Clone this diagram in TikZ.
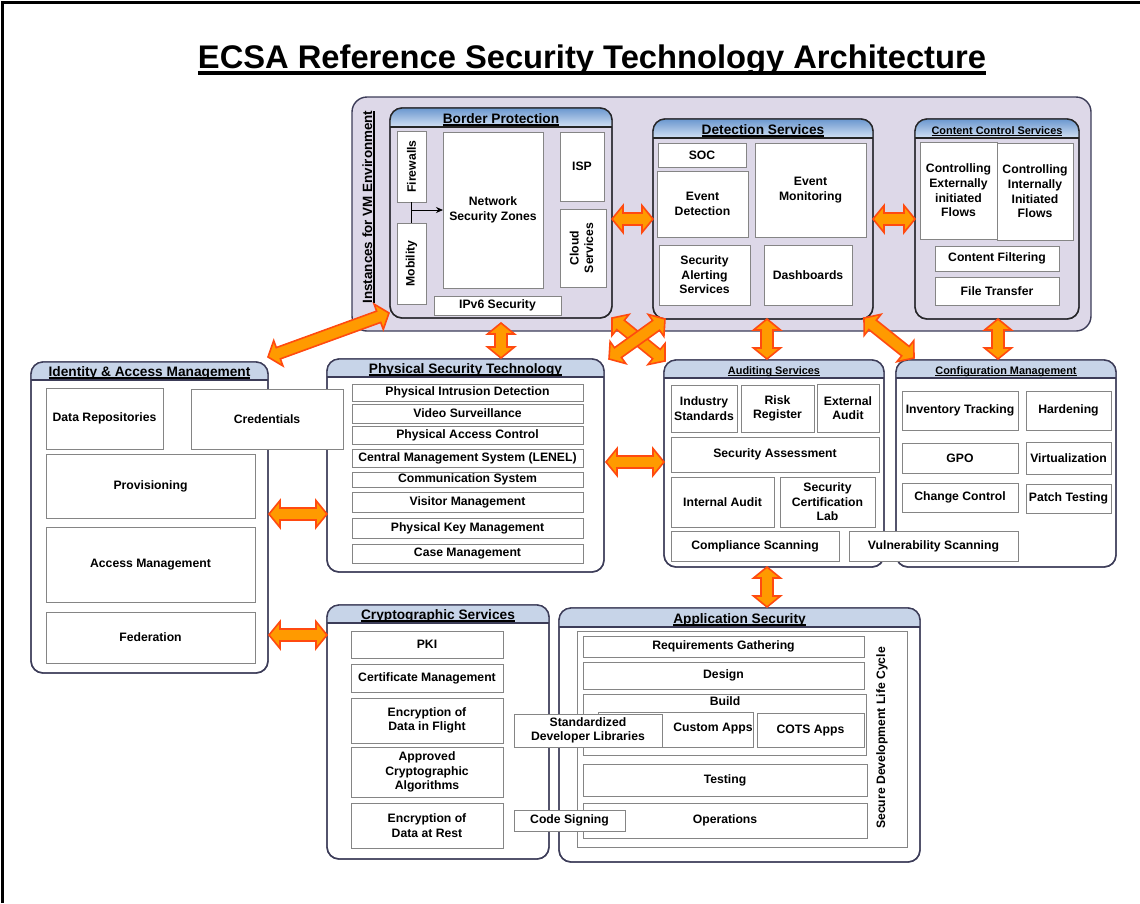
\documentclass[tikz,border=0pt]{standalone}
\usepackage{fontspec}
\setmainfont{Liberation Sans}
\usetikzlibrary{calc,arrows.meta}

\definecolor{vmfill}{HTML}{DDD8E8}
\definecolor{hdrlight}{HTML}{C7D4E8}
\definecolor{hdrtop}{HTML}{6A97CF}
\definecolor{hdrbot}{HTML}{D3E1F3}
\definecolor{grpline}{HTML}{3C3C58}
\definecolor{boxline}{HTML}{858585}
\definecolor{arrfill}{HTML}{FF9A00}
\definecolor{arrline}{HTML}{FF4A10}

\newcommand\ulx[1]{\setbox0=\hbox{#1}\rlap{\rule[-0.2em]{\wd0}{0.1em}}\box0}

\tikzset{
  bx/.style={draw=boxline, line width=0.9pt, fill=white, inner sep=1pt, outer sep=0pt,
    align=center, font=\fontsize{12.2}{14.6}\selectfont\bfseries},
  txt/.style={inner sep=0pt, align=center, font=\fontsize{12.2}{14.6}\selectfont\bfseries},
  grpbox/.style={draw=grpline, line width=1.4pt, rounded corners=12pt, inner sep=0pt, outer sep=0pt},
  grpedge/.style={draw=grpline, line width=1.4pt},
  grpbody/.style={fill=white},
  hdrA/.style={top color=hdrtop, bottom color=hdrbot},
  hdrB/.style={fill=hdrlight},
  fatarr/.style={fill=arrfill, draw=arrline, line width=1.6pt, line join=miter},
}

\newcommand\bx[7][]{\node[bx,minimum width={#5-#3},minimum height={#6-#4},#1] (#2) at ({(#3+#5)/2},{(#4+#6)/2}) {#7};}

\newcommand\grp[9]{%
  \node[grpbox, grpbody, minimum width={#4-#2}, minimum height={#5-#3}] (#1) at ({(#2+#4)/2},{(#3+#5)/2}) {};
  \begin{scope}
    \clip[rounded corners=12pt] (#2,#3) rectangle (#4,#5);
    \path[#8] (#2,#3) rectangle (#4,#6);
  \end{scope}
  \draw[grpedge] (#2,#6) -- (#4,#6);
  \draw[grpedge, rounded corners=12pt] (#2,#3) rectangle (#4,#5);
  \node[inner sep=0pt, font=\fontsize{#9}{#9}\selectfont\bfseries, anchor=base] (#1-title) at ({(#2+#4)/2},{#6-4}) {\ulx{#7}};
}

\newcommand\fatarrow[3][]{%
  \path let \p1=(#2), \p2=(#3) in \pgfextra{%
    \pgfmathsetmacro\faA{atan2(\y2-\y1,\x2-\x1)}%
    \pgfmathsetmacro\faL{veclen(\x2-\x1,\y2-\y1)}%
    \global\let\faAng\faA \global\let\faLen\faL};
  \draw[fatarr, shift={(#2)}, rotate=\faAng, #1]
    (0,0) -- (11,13.5) -- (11,6) -- ({\faLen-11},6) -- ({\faLen-11},13.5) -- (\faLen,0)
    -- ({\faLen-11},-13.5) -- ({\faLen-11},-6) -- (11,-6) -- (11,-13.5) -- cycle;
}

\begin{document}
\begin{tikzpicture}[x=1pt,y=-1pt]
\useasboundingbox (0,0) rectangle (1140,903);
\fill[white] (0,0) rectangle (1140,903);
\draw[line width=3pt] (2,903) -- (2,2) -- (1140,2);

% title
\node[inner sep=0pt, anchor=base, font=\fontsize{32.7}{36}\selectfont\bfseries] (title) at (592,68)
  {\ulx{ECSA Reference Security Technology Architecture}};

% VM environment
\node[grpbox, fill=vmfill, rounded corners=15pt, minimum width=739, minimum height=234] (vm) at (721.5,214) {};
\node[inner sep=0pt, rotate=90, anchor=base, font=\fontsize{13.4}{14}\selectfont\bfseries] (vmlabel) at (372,207)
  {\ulx{Instances for VM Environment}};

\tikzset{grpbody/.style={fill=vmfill}, grpedge/.style={draw=black!85, line width=1.4pt}}
% Border protection
\grp{bp}{390}{108}{612}{318}{127}{Border Protection}{hdrA}{13.7}
\bx{fw}{397}{131}{426}{202}{\rotatebox{90}{Firewalls}}
\bx{mob}{397}{223}{426}{304}{\rotatebox{90}{Mobility}}
\bx{nsz}{443}{132}{543}{288}{Network\\Security Zones}
\bx{isp}{560}{132}{604}{201}{ISP}
\bx{cloud}{560}{209}{606}{287}{\rotatebox{90}{\begin{tabular}{@{}c@{}}Cloud\\Services\end{tabular}}}
\bx{ipv6}{434}{296}{561}{315}{IPv6 Security}
\draw[line width=0.8pt] (fw.south) -- (mob.north);
\coordinate (fwj) at (fw.south |- nsz.west);
\draw[line width=0.8pt, -{Stealth[length=7pt,width=6pt]}] (fwj) -- (nsz.west);

% Detection services
\grp{ds}{653}{119}{873}{319}{138}{Detection Services}{hdrA}{13.7}
\bx{soc}{658}{143}{746}{167}{SOC}
\bx{evd}{657}{171}{748}{237}{Event\\Detection}
\bx{evm}{755}{143}{866}{237}{Event\\Monitoring}
\bx{sas}{659}{245}{750}{305}{Security\\Alerting\\Services}
\bx{dash}{764}{245}{852}{305}{Dashboards}

% Content control services
\grp{ccs}{915}{119}{1079}{319}{138}{Content Control Services}{hdrA}{10.9}
\bx{cef}{920}{142}{997}{239}{Controlling\\Externally\\initiated\\Flows}
\bx{cif}{997}{143}{1073}{240}{Controlling\\Internally\\Initiated\\Flows}
\bx{cfilt}{935}{246}{1059}{271}{Content Filtering}
\bx{ftr}{935}{277}{1059}{305}{File Transfer}

\tikzset{grpbody/.style={fill=white}, grpedge/.style={draw=grpline, line width=1.4pt}}
% Physical security
\grp{pst}{327}{359}{604}{572}{377}{Physical Security Technology}{hdrB}{13.7}
\bx{pid}{352}{384}{583}{401}{Physical Intrusion Detection}
\bx{vs}{352}{404}{583}{423}{Video Surveillance}
\bx{pac}{352}{426}{583}{444}{Physical Access Control}
\bx{cms}{352}{449}{583}{467}{Central Management System (LENEL)}
\bx{coms}{352}{472}{583}{487}{Communication System}
\bx{vism}{352}{492}{583}{512}{Visitor Management}
\bx{pkm}{352}{518}{583}{538}{Physical Key Management}
\bx{casem}{352}{544}{583}{563}{Case Management}

% Identity & access management
\grp{iam}{31}{362}{268}{673}{380}{Identity \& Access Management}{hdrB}{13.7}
\bx{drep}{46}{388}{163}{449}{Data Repositories}
\bx{cred}{191}{389}{343}{449}{Credentials}
\bx{prov}{46}{454}{255}{518}{Provisioning}
\bx{accm}{46}{527}{255}{602}{Access Management}
\bx{fed}{46}{612}{255}{663}{Federation}

% Auditing services
\grp{aud}{664}{360}{884}{567}{378}{Auditing Services}{hdrB}{10.9}
\bx{ind}{671}{385}{737}{432}{Industry\\Standards}
\bx{risk}{741}{385}{814}{432}{Risk\\Register}
\bx{ext}{817}{384}{879}{432}{External\\Audit}
\bx{sass}{671}{437}{879}{472}{Security Assessment}
\bx{inta}{671}{477}{774}{527}{Internal Audit}
\bx{scl}{780}{477}{875}{527}{Security\\Certification\\Lab}
\bx{comp}{671}{531}{839}{561}{Compliance Scanning}

% Configuration management
\grp{cfg}{896}{360}{1116}{567}{378}{Configuration Management}{hdrB}{10.9}
\bx{inv}{902}{391}{1018}{430}{Inventory Tracking}
\bx{hard}{1026}{391}{1111}{430}{Hardening}
\bx{gpo}{902}{443}{1018}{473}{GPO}
\bx{virt}{1026}{442}{1111}{474}{Virtualization}
\bx{chg}{902}{483}{1018}{512}{Change Control}
\bx{patch}{1026}{484}{1111}{513}{Patch Testing}
\bx{vuln}{849}{531}{1018}{561}{Vulnerability Scanning}

% Cryptographic services
\grp{cry}{327}{605}{549}{859}{623}{Cryptographic Services}{hdrB}{13.7}
\bx{pki}{351}{631}{503}{658}{PKI}
\bx{certm}{351}{664}{503}{692}{Certificate Management}
\bx{eif}{351}{698}{503}{743}{Encryption of\\Data in Flight}
\bx{aca}{351}{747}{503}{797}{Approved\\Cryptographic\\Algorithms}
\bx{ear}{351}{803}{503}{848}{Encryption of\\Data at Rest}

% Application security
\grp{app}{559}{608}{920}{862}{627}{Application Security}{hdrB}{13.7}
\bx{sdlc}{577}{631}{907}{847}{}
\node[txt, rotate=90] (sdlclabel) at (882,738) {Secure Development Life Cycle};
\bx{req}{583}{636}{864}{657}{Requirements Gathering}
\bx{des}{583}{662}{864}{689}{Design}
\bx{build}{583}{694}{866}{755}{}
\node[txt] (buildlabel) at (725,701) {Build};
\bx{cust}{598}{712}{753}{747}{}
\node[txt] (custlabel) at (713,728) {Custom Apps};
\bx{cots}{757}{713}{864}{747}{COTS Apps}
\bx{test}{583}{764}{867}{796}{Testing}
\bx{ops}{583}{803}{867}{838}{Operations}

% overlapping boxes
\bx{sdl}{514}{714}{662}{747}{Standardized\\Developer Libraries}
\bx{cs}{514}{810}{625}{831}{Code Signing}

% fat arrows
\coordinate (a3s) at (389,313); \coordinate (a3e) at (268,357);
\coordinate (a4s) at (501,323); \coordinate (a4e) at (501,358);
\coordinate (a5s) at (612,318); \coordinate (a5e) at (665,361);
\coordinate (a6s) at (665,319); \coordinate (a6e) at (609,359);
\coordinate (a7s) at (767,319); \coordinate (a7e) at (767,359);
\coordinate (a8s) at (864,318); \coordinate (a8e) at (914,358);
\coordinate (a9s) at (998,319); \coordinate (a9e) at (998,359);
\coordinate (a10s) at (606,462); \coordinate (a10e) at (664,462);
\coordinate (a11s) at (269,514); \coordinate (a11e) at (327,514);
\coordinate (a12s) at (269,635); \coordinate (a12e) at (327,635);
\coordinate (a13s) at (767,567); \coordinate (a13e) at (767,607);
\coordinate (a1s) at (bp.east |- ds.west);
\fatarrow{a1s}{ds.west}
\fatarrow{ds.east}{ccs.west}
\fatarrow{a3s}{a3e}
\fatarrow{a4s}{a4e}
\fatarrow{a5s}{a5e}
\fatarrow{a6s}{a6e}
\fatarrow{a7s}{a7e}
\fatarrow{a8s}{a8e}
\fatarrow{a9s}{a9e}
\fatarrow{a10s}{a10e}
\fatarrow{a11s}{a11e}
\fatarrow{a12s}{a12e}
\fatarrow{a13s}{a13e}
\end{tikzpicture}
\end{document}
